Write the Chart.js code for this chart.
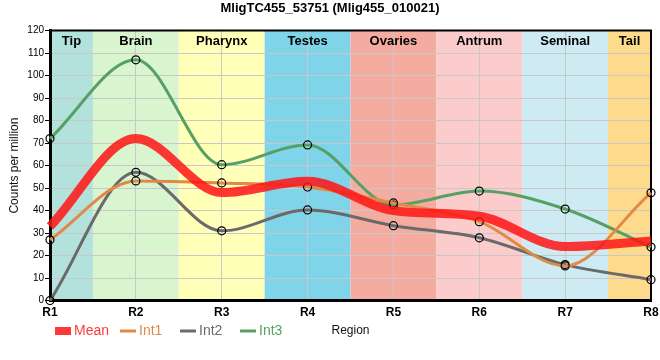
<!DOCTYPE html>
<html><head><meta charset="utf-8">
<script src="https://cdn.jsdelivr.net/npm/chart.js@4.4.0/dist/chart.umd.min.js"></script>
<style>html,body{margin:0;padding:0;background:#fff}#wrap{width:660px;height:360px;position:relative}</style>
</head><body><div id="wrap"><canvas id="c" width="660" height="360"></canvas></div>
<script>
const categories = ['R1','R2','R3','R4','R5','R6','R7','R8'];
const regionNames = ['Tip','Brain','Pharynx','Testes','Ovaries','Antrum','Seminal','Tail'];
const regionColors = ['#b3e2dd','#d9f5d0','#ffffb7','#7fd4ea','#f4aca0','#fccbcc','#ceebf4','#fdda8c'];
const meanValues = [33, 72, 48, 53, 40, 37.5, 24, 26.5];
const int1Values = [27, 53.2, 52.3, 50.5, 43.4, 35.1, 15.4, 47.9];
const int2Values = [0, 57, 31, 40.3, 33.3, 27.9, 16, 9.3];
const int3Values = [72, 107, 60.4, 69.2, 42.5, 48.7, 40.7, 23.8];
const seriesNames = ['Mean','Int1','Int2','Int3'];
const seriesColors = ['rgba(255,20,20,0.85)','#e08a48','#6a6a6a','#56a064'];
const chartTitle = 'MligTC455_53751 (Mlig455_010021)';
const yAxisTitle = 'Counts per million';
const xAxisTitle = 'Region';
const yMin = 0, yMax = 120, yStep = 10;

const FONT = "'Liberation Sans', Arial, sans-serif";

const decorPlugin = {
  id: 'decor',
  beforeDraw(chart) {
    const {ctx, chartArea: a, scales: {x}} = chart;
    ctx.save();
    regionNames.forEach((n, i) => {
      const l = Math.max(a.left, x.getPixelForValue(i - 0.5));
      const r = Math.min(a.right, x.getPixelForValue(i + 0.5));
      ctx.fillStyle = regionColors[i];
      ctx.fillRect(l, a.top, r - l, a.bottom - a.top);
    });
    ctx.restore();
  },
  beforeDatasetsDraw(chart) {
    const {ctx, chartArea: a, scales: {x}} = chart;
    ctx.save();
    ctx.font = 'bold 13px ' + FONT;
    ctx.fillStyle = '#000';
    ctx.textAlign = 'center';
    ctx.textBaseline = 'alphabetic';
    regionNames.forEach((n, i) => {
      const l = Math.max(a.left, x.getPixelForValue(i - 0.5));
      const r = Math.min(a.right, x.getPixelForValue(i + 0.5));
      ctx.fillText(n, (l + r) / 2, a.top + 14);
    });
    ctx.strokeStyle = '#000';
    ctx.lineWidth = 2;
    ctx.beginPath();
    ctx.moveTo(a.left, a.top);
    ctx.lineTo(a.right, a.top);
    ctx.lineTo(a.right, a.bottom);
    ctx.stroke();
    ctx.restore();
  },
  afterDraw(chart) {
    const {ctx, chartArea: a} = chart;
    ctx.save();
    const starts = [55, 120, 180, 240];
    const cy = 331;
    ctx.font = '14px ' + FONT;
    ctx.textBaseline = 'middle';
    ctx.textAlign = 'left';
    seriesNames.forEach((n, i) => {
      const x0 = starts[i];
      const c = seriesColors[i];
      if (i === 0) {
        ctx.fillStyle = c;
        ctx.fillRect(x0, cy - 4, 16, 8);
      } else {
        ctx.strokeStyle = c;
        ctx.lineWidth = 3;
        ctx.beginPath();
        ctx.moveTo(x0, cy);
        ctx.lineTo(x0 + 16, cy);
        ctx.stroke();
      }
      ctx.fillStyle = c;
      ctx.fillText(n, x0 + 19, cy);
    });
    ctx.font = '12px ' + FONT;
    ctx.fillStyle = '#111';
    ctx.textAlign = 'center';
    ctx.fillText(xAxisTitle, (a.left + a.right) / 2, cy);
    ctx.restore();
  }
};

const lineDs = (label, data, color, width, isMean) => ({
  label, data,
  borderColor: color,
  backgroundColor: color,
  borderWidth: width,
  cubicInterpolationMode: 'monotone',
  pointRadius: isMean ? 0 : 4,
  pointHoverRadius: isMean ? 0 : 4,
  pointBorderColor: '#000',
  pointBorderWidth: 1.2,
  pointBackgroundColor: 'rgba(0,0,0,0)',
  fill: false,
  clip: false
});

new Chart(document.getElementById('c'), {
  type: 'line',
  data: {
    labels: categories,
    datasets: [
      lineDs(seriesNames[0], meanValues, seriesColors[0], 9, true),
      lineDs(seriesNames[1], int1Values, seriesColors[1], 3, false),
      lineDs(seriesNames[2], int2Values, seriesColors[2], 3, false),
      lineDs(seriesNames[3], int3Values, seriesColors[3], 3, false)
    ]
  },
  options: {
    responsive: false,
    animation: false,
    devicePixelRatio: 1,
    layout: { padding: { left: 0, right: 0, top: 0, bottom: 35 } },
    plugins: {
      legend: { display: false },
      tooltip: { enabled: false },
      title: {
        display: true, text: chartTitle, color: '#000',
        font: { family: FONT, size: 13, weight: 'bold' },
        padding: { top: 1, bottom: 14 }
      }
    },
    scales: {
      x: {
        offset: false,
        afterFit(s) { s.paddingRight = 9; },
        grid: { color: '#c8c8c8', drawTicks: false, lineWidth: 1 },
        border: { color: '#000', width: 3 },
        ticks: { color: '#000', font: { family: FONT, size: 12, weight: 'bold' }, padding: 5, maxRotation: 0 }
      },
      y: {
        min: yMin, max: yMax,
        afterFit(s) { s.width = 50; },
        grid: { color: '#c8c8c8', tickColor: '#000', tickLength: 5, lineWidth: 1 },
        border: { color: '#000', width: 3 },
        ticks: { stepSize: yStep, color: '#000', font: { family: FONT, size: 10 }, padding: 1 },
        title: { display: true, text: yAxisTitle, color: '#111', font: { family: FONT, size: 12 }, padding: { top: 7, bottom: 2 } }
      }
    }
  },
  plugins: [decorPlugin]
});
</script>
</body></html>
